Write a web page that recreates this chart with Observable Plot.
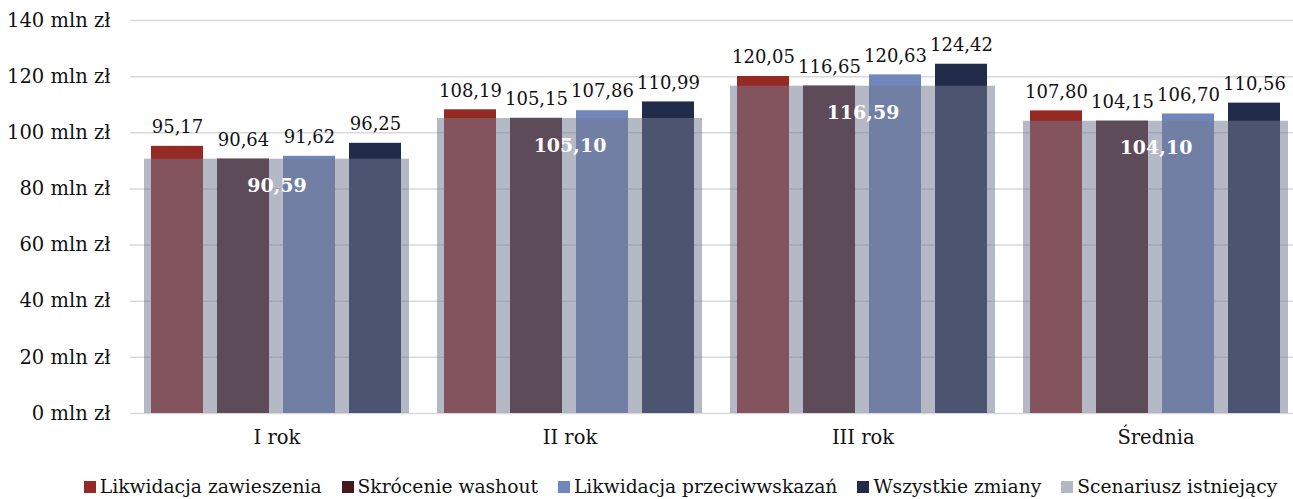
<!DOCTYPE html>
<html>
<head>
<meta charset="utf-8">
<script src="https://cdn.jsdelivr.net/npm/d3@7"></script>
<script src="https://cdn.jsdelivr.net/npm/@observablehq/plot@0.6"></script>
<style>
  body { margin: 0; background: #fff; overflow: hidden; }
  #chart svg { overflow: hidden; }
  .legend { display: flex; justify-content: center; align-items: center; gap: 20px;
    font-family: "DejaVu Serif", serif; font-size: 18.7px; color: #111; margin-top: 16px; padding-left: 68px; }
  .legend .item { display: flex; align-items: center; gap: 4px; white-space: nowrap; }
  .legend .sw { width: 12px; height: 12px; display: inline-block; }
</style>
</head>
<body>
<div id="chart"></div>
<script>
const groups = ["I rok", "II rok", "III rok", "Średnia"];
const series = ["Likwidacja zawieszenia", "Skrócenie washout", "Likwidacja przeciwwskazań", "Wszystkie zmiany"];
const seriesColors = ["#952924", "#45191d", "#7187bb", "#212c4b"];
const existingName = "Scenariusz istniejący";
const existingColor = "#747892";
const existingLegendColor = "#b5b7c5";

const zawieszenia = [95.17, 108.19, 120.05, 107.80];
const washout = [90.64, 105.15, 116.65, 104.15];
const przeciwwskazan = [91.62, 107.86, 120.63, 106.70];
const wszystkie = [96.25, 110.99, 124.42, 110.56];
const istniejacy = [90.59, 105.10, 116.59, 104.10];
const yTicks = [0, 20, 40, 60, 80, 100, 120, 140];

const seriesValues = [zawieszenia, washout, przeciwwskazan, wszystkie];
const rows = [];
groups.forEach((g, gi) => series.forEach((s, si) => rows.push({group: g, series: s, value: seriesValues[si][gi]})));
const existingRows = groups.map((g, gi) => ({group: g, value: istniejacy[gi]}));
const fmt = v => v.toFixed(2).replace(".", ",");

const chart = Plot.plot({
  width: 1293,
  height: 460,
  marginLeft: 130,
  marginRight: 0,
  marginTop: 20,
  marginBottom: 47,
  style: {fontFamily: "DejaVu Serif, serif", fontSize: "18px", color: "#111", background: "#fff"},
  fx: {domain: groups, range: [130, 1302], padding: 0, label: null},
  x: {domain: series, paddingInner: 0.21, paddingOuter: 0.316, axis: null},
  y: {domain: [0, 140], label: null},
  color: {domain: series, range: seriesColors},
  marks: [
    Plot.ruleY(yTicks, {stroke: "#d9d9d9", strokeWidth: 1.5}),
    Plot.barY(rows, {fx: "group", x: "series", y: "value", fill: "series"}),
    Plot.barY(existingRows, {fx: "group", y: "value", fill: existingColor, fillOpacity: 0.53, insetLeft: 14, insetRight: 14}),
    Plot.text(rows, {fx: "group", x: "series", y: "value", text: d => fmt(d.value), lineAnchor: "middle", dy: -19, fill: "#111", fontSize: 18}),
    Plot.text(existingRows, {fx: "group", y: "value", text: d => fmt(d.value), lineAnchor: "middle", dy: 27, fill: "#fff", fontWeight: "bold", fontSize: 19}),
    Plot.axisY({ticks: yTicks, tickSize: 0, tickPadding: 20, tickFormat: d => d + " mln zł", label: null, fontSize: 19.5}),
    Plot.axisFx({anchor: "bottom", tickSize: 0, tickPadding: 17, label: null, fontSize: 19.5})
  ]
});
document.getElementById("chart").appendChild(chart);

const legend = document.createElement("div");
legend.className = "legend";
series.concat([existingName]).forEach((s, i) => {
  const item = document.createElement("span");
  item.className = "item";
  const sw = document.createElement("span");
  sw.className = "sw";
  sw.style.background = i < series.length ? seriesColors[i] : existingLegendColor;
  const t = document.createElement("span");
  t.textContent = s;
  item.appendChild(sw);
  item.appendChild(t);
  legend.appendChild(item);
});
document.getElementById("chart").appendChild(legend);
</script>
</body>
</html>
